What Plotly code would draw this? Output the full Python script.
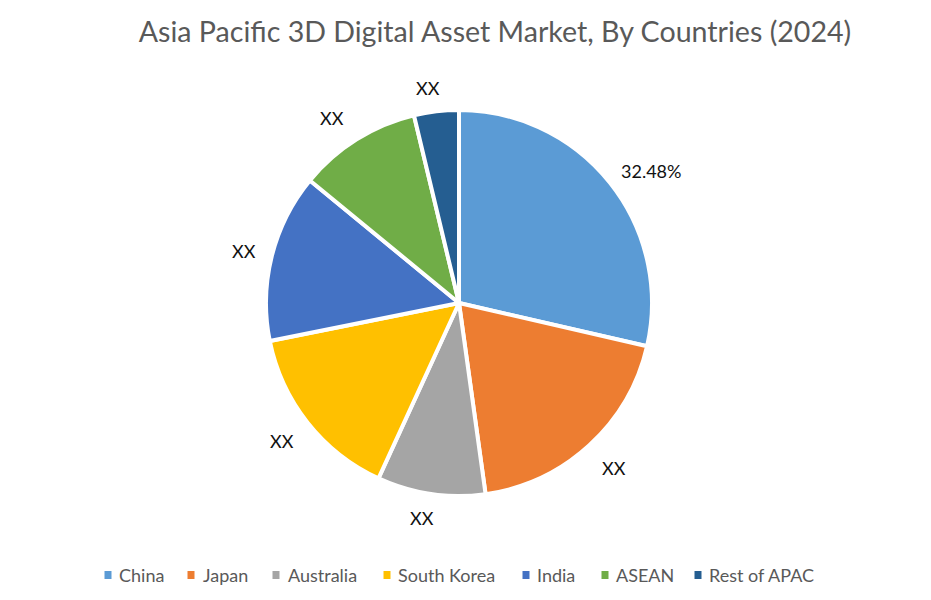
import plotly.graph_objects as go

# the page has an 8px body margin, so the figure starts at (8, 8)
W = 915
H = 584
PAD = 8

countries = ["China", "Japan", "Australia", "South Korea", "India", "ASEAN", "Rest of APAC"]
shares = [28.6, 19.2, 9.05, 15.0, 14.1, 10.3, 3.75]
slice_labels = ["32.48%", "XX", "XX", "XX", "XX", "XX", "XX"]
colors = ["#5B9BD5", "#ED7D31", "#A5A5A5", "#FFC000", "#4472C4", "#70AD47", "#255E91"]

# where the labels sit, in pixels of the page
label_x = [651, 614, 422, 282, 244, 332, 428]
label_y = [171, 468, 518, 441, 251, 118, 88]

# legend drawn by hand, plotly's own one cannot be packed this tight
legend_swatch_x = [108, 191, 276, 387, 526, 605, 698]
legend_text_x = [117, 201, 286, 396, 535, 614, 707]
legend_y = 575


def px(x):
    return (x - PAD) / W


def py(y):
    return 1 - (y - PAD) / H


cx, cy, r = 459, 303, 193

fig = go.Figure()
fig.add_trace(go.Pie(
    labels=countries,
    values=shares,
    sort=False,
    direction="clockwise",
    rotation=0,
    textinfo="none",
    hoverinfo="label+percent",
    showlegend=False,
    marker=dict(colors=colors, line=dict(color="white", width=4)),
    domain=dict(x=[px(cx - r), px(cx + r)], y=[py(cy + r), py(cy - r)]),
))

for txt, x, y in zip(slice_labels, label_x, label_y):
    fig.add_annotation(
        x=px(x), y=py(y), xref="paper", yref="paper",
        xanchor="center", yanchor="middle",
        text=txt, showarrow=False,
        font=dict(family="Lato", size=18, color="#111111"),
    )

for name, col, sx, tx in zip(countries, colors, legend_swatch_x, legend_text_x):
    fig.add_shape(
        type="rect", xref="paper", yref="paper",
        x0=px(sx - 3.5), x1=px(sx + 3.5), y0=py(legend_y + 4), y1=py(legend_y - 4),
        fillcolor=col, line_width=0,
    )
    fig.add_annotation(
        x=px(tx), y=py(legend_y), xref="paper", yref="paper",
        xanchor="left", yanchor="middle",
        text=name, showarrow=False,
        font=dict(family="Lato", size=18, color="#595959"),
    )

fig.update_layout(
    width=W,
    height=H,
    margin=dict(l=0, r=0, t=0, b=0, autoexpand=False),
    paper_bgcolor="white",
    title=dict(
        text="Asia Pacific 3D Digital Asset Market, By Countries (2024)",
        x=px(495), xanchor="center",
        y=py(32), yanchor="middle",
        font=dict(family="Lato", size=28.6, color="#595959"),
    ),
)

fig.write_html("out.html")
